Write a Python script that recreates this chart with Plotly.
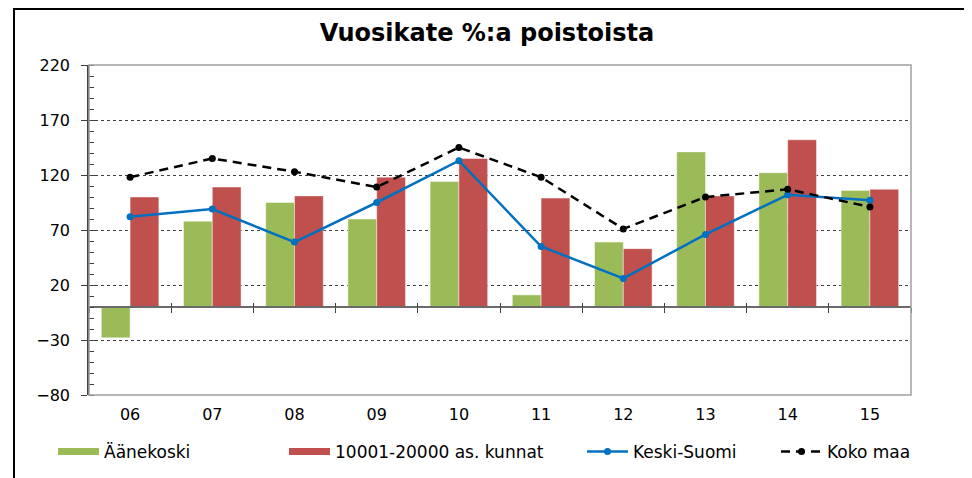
import plotly.graph_objects as go

years = ['06', '07', '08', '09', '10', '11', '12', '13', '14', '15']
aanekoski = [-28, 78, 95, 80, 114, 11, 59, 141, 122, 106]
kunnat = [100, 109, 101, 118, 135, 99, 53, 101, 152, 107]
keski_suomi = [82, 89, 59, 95, 133, 55, 26, 66, 102, 97]
koko_maa = [118, 135, 123, 109, 145, 118, 71, 100, 107, 91]

y_min, y_max = -80, 220
y_major = list(range(y_min, y_max + 1, 50))

GREEN = '#9BBB59'
RED = '#C0504D'
BLUE = '#0070C0'
FONT = 'DejaVu Sans'

# page offset of the plot div (browser default body margin)
OFF = 8
W, H = 972, 478
ML, MT = 89 - OFF, 65 - OFF
PW, PH = 822, 330
MR = W - ML - PW
MB = H - MT - PH

fig = go.Figure()
bar_line = dict(color='rgba(255,255,255,0.55)', width=0.8)
fig.add_trace(go.Bar(x=years, y=aanekoski, name='Äänekoski', marker=dict(color=GREEN, line=bar_line),
                     showlegend=False))
fig.add_trace(go.Bar(x=years, y=kunnat, name='10001-20000 as. kunnat', marker=dict(color=RED, line=bar_line),
                     showlegend=False))
fig.add_trace(go.Scatter(x=years, y=keski_suomi, name='Keski-Suomi', mode='lines+markers',
                         line=dict(color=BLUE, width=2.5), marker=dict(color=BLUE, size=7),
                         legend='legend3'))
fig.add_trace(go.Scatter(x=years, y=koko_maa, name='Koko maa', mode='lines+markers',
                         line=dict(color='black', width=2.5, dash='9px,6px'), marker=dict(color='black', size=7),
                         legend='legend4'))
# legend swatches for the bar series
fig.add_trace(go.Scatter(x=[None], y=[None], name='Äänekoski', mode='lines',
                         line=dict(color=GREEN, width=7), legend='legend'))
fig.add_trace(go.Scatter(x=[None], y=[None], name='10001-20000 as. kunnat', mode='lines',
                         line=dict(color=RED, width=7), legend='legend2'))
# helper traces for overlay axes
fig.add_trace(go.Scatter(x=[None], y=[None], xaxis='x2', showlegend=False, hoverinfo='skip'))
fig.add_trace(go.Scatter(x=[None], y=[None], xaxis='x3', showlegend=False, hoverinfo='skip'))
fig.add_trace(go.Scatter(x=[None], y=[None], yaxis='y2', showlegend=False, hoverinfo='skip'))

zero_pos = (0 - y_min) / (y_max - y_min)
n = len(years)
bounds = [i - 0.5 for i in range(n + 1)]

leg_common = dict(xref='container', yref='container', yanchor='middle', xanchor='left',
                  orientation='h', bgcolor='rgba(0,0,0,0)', font=dict(family=FONT, size=17, color='black'),
                  itemwidth=41)
y_leg = 1 - (452 - OFF) / H

fig.update_layout(
    width=W, height=H,
    margin=dict(l=ML, r=MR, t=MT, b=MB),
    paper_bgcolor='white', plot_bgcolor='white',
    barmode='group', bargap=0.3, bargroupgap=0,
    title=dict(text='<b>Vuosikate %:a poistoista</b>', x=(487 - OFF) / W, xanchor='center',
               y=1 - (33 - OFF) / H, yanchor='middle', xref='container', yref='container',
               font=dict(family=FONT, size=24, color='black')),
    xaxis=dict(type='category', range=[-0.5, n - 0.5], showline=False, ticks='', showgrid=False,
               tickfont=dict(family=FONT, size=16, color='black'), ticklabelstandoff=8, automargin=False),
    xaxis2=dict(overlaying='x', anchor='free', position=zero_pos, range=[-0.5, n - 0.5],
                tickvals=bounds, ticks='outside', ticklen=5, tickcolor='#404040', tickwidth=1.2,
                showticklabels=False, showline=True, linecolor='#6a6a6a', linewidth=1.5,
                showgrid=False, zeroline=False),
    xaxis3=dict(overlaying='x', anchor='free', position=zero_pos, range=[-0.5, n - 0.5],
                tickvals=bounds, ticks='inside', ticklen=4, tickcolor='#404040', tickwidth=1.2,
                showticklabels=False, showline=False, showgrid=False, zeroline=False),
    yaxis=dict(range=[y_min, y_max], tickvals=y_major, ticks='outside', ticklen=6, tickcolor='#404040',
               showline=True, linecolor='#404040', linewidth=1.5, zeroline=False,
               showgrid=True, gridcolor='#404040', gridwidth=1, griddash='dot',
               minor=dict(ticks='inside', dtick=10, tick0=0, ticklen=5, tickcolor='#404040', showgrid=False),
               tickfont=dict(family=FONT, size=16, color='black'), ticklabelstandoff=8, automargin=False),
    yaxis2=dict(overlaying='y', anchor='x', side='left', range=[y_min, y_max], tickvals=y_major,
                ticks='inside', ticklen=6, tickcolor='#404040', showticklabels=False,
                showline=False, showgrid=False, zeroline=False),
    legend=dict(x=(53 - OFF) / W, y=y_leg, **leg_common),
    legend2=dict(x=(284 - OFF) / W, y=y_leg, **leg_common),
    legend3=dict(x=(582 - OFF) / W, y=y_leg, **leg_common),
    legend4=dict(x=(776 - OFF) / W, y=y_leg, **leg_common),
    shapes=[
        dict(type='rect', xref='paper', yref='paper', x0=0, x1=1, y0=0, y1=1,
             line=dict(color='#a0a0a0', width=1.5), layer='above'),
        dict(type='rect', xref='paper', yref='paper', x0=(14 - 89) / PW, x1=1.5,
             y0=-0.6, y1=1 + (MT - 1) / PH, line=dict(color='black', width=2), layer='above'),
    ],
)

fig.write_html('out.html')
